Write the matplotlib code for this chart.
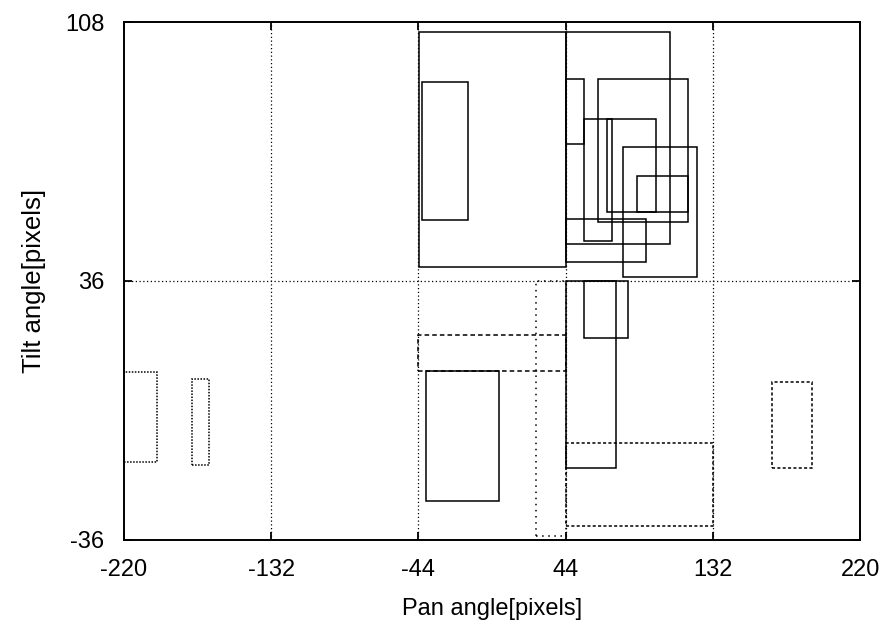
import matplotlib
matplotlib.use("Agg")
import matplotlib.pyplot as plt
from matplotlib.patches import Rectangle

plt.rcParams['font.family'] = ['Liberation Sans', 'DejaVu Sans']
plt.rcParams['axes.unicode_minus'] = False

# Rectangles (pan range x0..x1, tilt range y0..y1)
rect_x0 = [-43.6, 44.0, -41.6, 44.0, 63.6, 54.8, 68.6, 86.9, 78.5, 44.0,
           54.8, 44.0, -44.0, 26.3, -39.7, 44.0, -220.0, -179.5, 167.2]
rect_x1 = [44.0, 106.4, -14.1, 54.8, 116.8, 71.5, 97.9, 116.8, 122.4, 91.9,
           81.1, 73.9, 44.0, 44.0, 4.2, 132.0, -200.5, -169.2, 191.1]
rect_y0 = [40.0, 46.2, 53.0, 74.1, 52.3, 47.1, 55.1, 55.1, 37.2, 41.2,
           20.1, -16.1, 11.1, -35.0, -25.1, -32.1, -14.2, -15.3, -16.1]
rect_y1 = [105.1, 105.1, 91.2, 92.2, 92.2, 81.0, 81.0, 65.1, 73.2, 53.2,
           36.0, 36.0, 21.0, 36.0, 11.1, -9.0, 10.8, 8.75, 7.8]

x_ticks = [-220, -132, -44, 44, 132, 220]
y_ticks = [-36, 36, 108]
x_grid = [-132, -44, 44, 132]
y_grid = [36]

# styles (one per rectangle)
solid = '-'
styles = [solid] * 12 + [(0, (3, 2)), (0, (1, 3)), solid, (0, (2, 1.5)),
                         (0, (1, 1)), (0, (1, 1)), (0, (2, 1.5))]

fig = plt.figure(figsize=(8.85, 6.3), dpi=100)
ax = fig.add_axes([0.140, 0.143, 0.832, 0.822])
ax.set_xlim(-220, 220)
ax.set_ylim(-36, 108)

for g in x_grid:
    ax.axvline(g, color='black', lw=0.9, ls=(0, (1, 2)), zorder=1)
for g in y_grid:
    ax.axhline(g, color='black', lw=0.9, ls=(0, (1, 2)), zorder=1)

for x0, x1, y0, y1, st in zip(rect_x0, rect_x1, rect_y0, rect_y1, styles):
    ax.add_patch(Rectangle((x0, y0), x1 - x0, y1 - y0, fill=False,
                           edgecolor='black', lw=1.1, ls=st, zorder=2))

ax.set_xticks(x_ticks)
ax.set_yticks(y_ticks)
ax.tick_params(direction='in', top=True, right=True, length=6, width=1.3,
               labelsize=17)
ax.tick_params(axis='x', pad=14)
ax.tick_params(axis='y', pad=14)
for s in ax.spines.values():
    s.set_linewidth(1.4)

ax.set_xlabel('Pan angle[pixels]', fontsize=17, labelpad=12)
ax.set_ylabel('Tilt angle[pixels]', fontsize=18.5, labelpad=14)

fig.savefig('out.png', dpi=100)
